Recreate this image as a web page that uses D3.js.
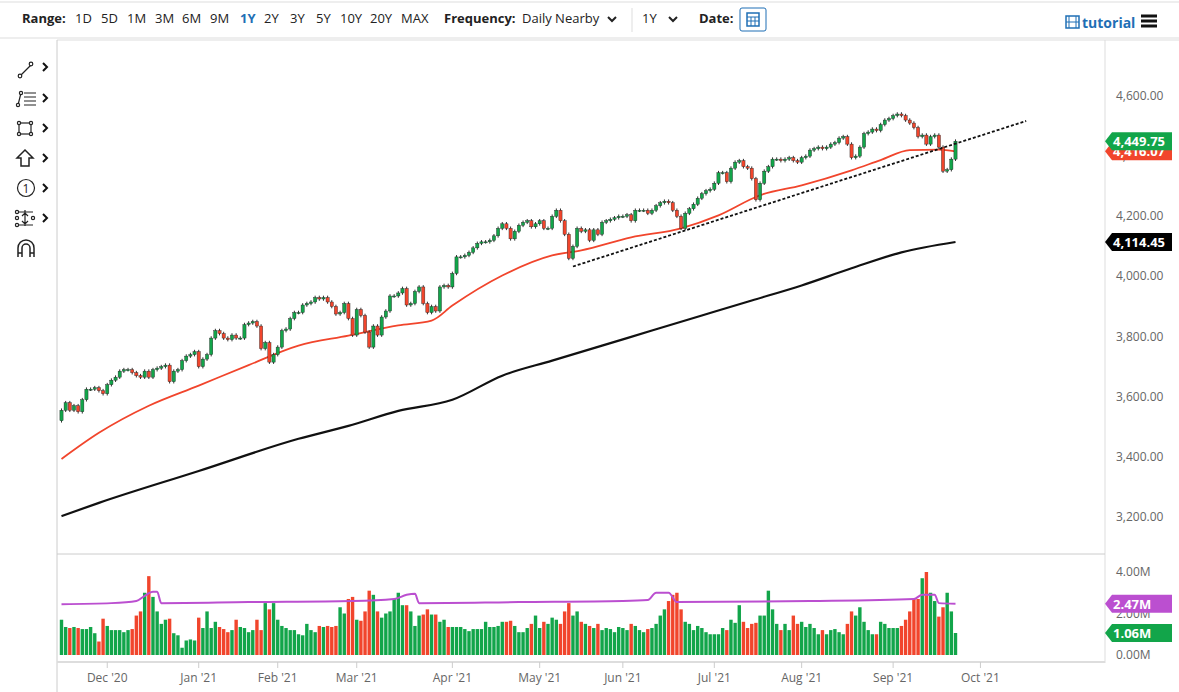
<!DOCTYPE html>
<html><head><meta charset="utf-8">
<script src="https://cdn.jsdelivr.net/npm/d3@7"></script>
<style>body{margin:0;background:#fff;font-family:"Open Sans",sans-serif}</style>
</head><body><svg id="c" width="1179" height="692"></svg>
<script>
// ---------- DATA ----------
const holidays=["2020-11-26","2020-12-25","2021-01-01","2021-01-18","2021-02-15","2021-04-02","2021-05-31","2021-07-05","2021-09-06"];
const closes=[
3555,3580,3555,3570,3550,3590,3625,3625,3630,3620,3610,
3640,3655,3665,3685,3690,3690,3680,3670,3665,3685,3665,3690,3695,3700,3705,3650,3685,3690,3720,3735,3740,3750,
3700,3725,3740,3795,3820,3810,3795,3790,3805,3795,3795,3840,3845,3850,3835,3760,3780,3715,3740,
3765,3820,3825,3860,3880,3880,3905,3910,3915,3930,3925,3930,3915,3900,3875,3880,3910,3860,3805,
3890,3870,3815,3765,3835,3805,3865,3885,3935,3935,3945,3960,3905,3910,3950,3965,3910,3880,3900,3885,3965,3970,3965,
4010,4065,4065,4070,4080,4095,4110,4115,4115,4120,4135,4160,4175,4160,4125,4150,4170,4180,4185,4165,4175,
4185,4160,4160,4200,4220,4185,4140,4060,4100,4160,4150,4155,4120,4155,4140,4180,4185,4190,4195,4200,
4200,4205,4185,4220,4220,4220,4210,4220,4235,4245,4250,4245,4220,4200,4160,4210,4225,4240,4260,4275,4285,4290,
4310,4345,4345,4315,4360,4380,4385,4365,4360,4325,4255,4310,4350,4365,4390,4390,4385,4390,4395,4385,4380,
4395,4400,4420,4425,4430,4425,4430,4440,4445,4460,4465,4440,4395,4400,4430,4475,4480,4490,4485,4505,4520,4525,
4535,4540,4535,4520,4510,4495,4465,4470,4440,4465,4470,4430,4350,4355,4390,4449.75];
const volumes=[
1.7,1.35,1.3,1.35,1.3,1.25,1.25,1.35,1.05,0.65,1.75,
1.4,1.2,1.2,1.2,1.1,1.2,1.25,1.9,2.1,3.0,3.8,2.8,2.1,1.5,1.7,1.75,1.05,0.95,0.35,0.7,0.75,0.7,
1.8,1.3,2.1,1.3,1.6,1.35,1.25,1.1,1.2,1.7,1.35,1.3,1.1,1.2,1.7,1.2,2.5,2.2,2.5,
1.7,1.4,1.3,1.2,1.2,1.0,0.95,1.5,1.2,1.1,1.4,1.35,1.4,1.35,1.4,2.3,2.0,2.7,2.8,
1.7,1.65,2.1,3.1,2.9,2.1,1.8,2.0,2.1,2.7,3.0,2.4,2.4,2.1,1.4,1.9,1.95,2.2,1.95,1.95,1.6,1.7,1.35,
1.35,1.35,1.35,1.25,1.15,1.25,1.25,1.25,1.6,1.35,1.35,1.4,1.6,1.6,1.65,1.4,1.1,1.1,1.3,1.5,1.9,
1.3,1.6,1.5,1.8,1.7,1.5,2.1,2.5,1.9,2.1,1.6,1.5,1.4,1.3,1.5,1.2,1.3,1.25,1.1,1.35,
1.3,1.2,1.5,1.4,1.2,1.1,1.25,1.3,1.5,1.9,2.2,2.6,2.9,3.0,2.2,1.6,1.5,1.2,1.4,1.3,1.1,1.0,
1.0,1.0,1.3,1.2,1.7,1.55,2.4,1.6,1.3,1.5,1.55,1.9,1.9,3.1,2.2,1.5,1.2,1.5,1.2,1.9,1.5,
1.6,1.35,1.5,1.3,1.0,1.2,1.0,1.2,1.25,1.1,1.0,1.5,2.1,1.9,2.3,1.6,1.2,1.0,1.0,1.6,1.5,1.3,
1.3,1.3,1.4,1.7,2.1,2.7,2.7,3.7,4.0,3.0,2.6,1.85,2.3,3.0,2.1,1.06];
const ma50=[[0,3393],[9,3480],[21,3570],[33,3637],[45,3705],[57,3770],[69,3803],[81,3837],[89,3853],[94,3903],[106,4003],[118,4070],[125,4087],[137,4130],[149,4160],[158,4203],[168,4270],[178,4303],[190,4353],[197,4387],[204,4420],[211,4422],[215,4416.07]];
const ma200=[[0,3203],[9,3247],[33,3353],[57,3460],[69,3503],[81,3553],[94,3590],[106,3670],[118,3720],[130,3770],[142,3820],[154,3870],[166,3920],[178,3970],[190,4027],[202,4080],[215,4114.45]];
const volAvg=[[0,2.45],[12,2.5],[18,2.6],[20,2.85],[22,3.05],[23,3.05],[24,2.5],[45,2.55],[70,2.6],[80,2.7],[83,2.9],[85,2.95],[86,2.5],[110,2.55],[135,2.6],[141,2.65],[143,3.0],[146,3.0],[148,2.55],[180,2.6],[205,2.7],[207,2.9],[210,2.9],[211,2.5],[215,2.47]];
const trend=[[123,4033],[232,4517]];
const priceTicks=[3200,3400,3600,3800,4000,4200,4400,4600];
const volTicks=[0,2,4];
const monthLabels=["Dec '20","Jan '21","Feb '21","Mar '21","Apr '21","May '21","Jun '21","Jul '21","Aug '21","Sep '21","Oct '21"];
const rangeItems=["1D","5D","1M","3M","6M","9M","1Y","2Y","3Y","5Y","10Y","20Y","MAX"];

// trading calendar
const fmt=d3.timeFormat("%Y-%m-%d");
const days=d3.timeDay.range(new Date(2020,10,13),new Date(2021,10,15)).filter(d=>d.getDay()>0&&d.getDay()<6&&!holidays.includes(fmt(d)));
const N=closes.length;

const svg=d3.select("#c");
const GREEN="#12a54a",RED="#f1452c",GRAY="#666";
const x=d3.scaleLinear().domain([0,215]).range([61.5,955.5]);
const y=d3.scaleLinear().domain([3200,4600]).range([517,96]);
const yv=d3.scaleLinear().domain([0,4]).range([655,572]);

// frames
svg.append("line").attr("x1",0).attr("x2",1179).attr("y1",2).attr("y2",2).attr("stroke","#ddd");
svg.append("line").attr("x1",0).attr("x2",1179).attr("y1",38).attr("y2",38).attr("stroke","#ddd");
svg.append("line").attr("x1",57).attr("x2",1179).attr("y1",40).attr("y2",40).attr("stroke","#ddd");
svg.append("line").attr("x1",57).attr("x2",57).attr("y1",40).attr("y2",692).attr("stroke","#ccc");
svg.append("line").attr("x1",1105).attr("x2",1105).attr("y1",40).attr("y2",663).attr("stroke","#ddd");
svg.append("line").attr("x1",57).attr("x2",1105).attr("y1",554).attr("y2",554).attr("stroke","#ccc");
svg.append("line").attr("x1",57).attr("x2",1105).attr("y1",662).attr("y2",662).attr("stroke","#ddd").attr("stroke-width",2);

// toolbar
const tb=svg.append("g").attr("font-size",13).attr("fill","#222");
tb.append("text").attr("x",22).attr("y",23).attr("font-weight","bold").text("Range:");
const rx=[75,101,127,155,182,210,240,264,290,316,340,370,401];
rangeItems.forEach((t,i)=>tb.append("text").attr("x",rx[i]).attr("y",23).attr("fill",t==="1Y"?"#1f6fb5":"#222").attr("font-weight",t==="1Y"?"bold":"normal").text(t));
tb.append("text").attr("x",444).attr("y",23).attr("font-weight","bold").text("Frequency:");
tb.append("text").attr("x",522).attr("y",23).text("Daily Nearby");
tb.append("text").attr("x",642).attr("y",23).text("1Y");
tb.append("text").attr("x",699).attr("y",23).attr("font-weight","bold").text("Date:");
[[608],[669]].forEach(([cx])=>svg.append("path").attr("d",`M${cx},17 l4,4 l4,-4`).attr("fill","none").attr("stroke","#222").attr("stroke-width",2));
svg.append("line").attr("x1",632).attr("x2",632).attr("y1",8).attr("y2",32).attr("stroke","#ddd");
svg.append("rect").attr("x",740).attr("y",8).attr("width",26).attr("height",23).attr("fill","#fff").attr("stroke","#1f6fb5").attr("rx",2);
svg.append("rect").attr("x",747).attr("y",13).attr("width",12).attr("height",13).attr("fill","none").attr("stroke","#1f6fb5").attr("stroke-width",1.5);
svg.append("path").attr("d","M747,17h12M751,17v9M755,17v9M747,21h12").attr("stroke","#1f6fb5");
svg.append("rect").attr("x",1066).attr("y",16).attr("width",13).attr("height",12).attr("fill","none").attr("stroke","#1f6fb5").attr("stroke-width",1.5);
svg.append("path").attr("d","M1069,16v12M1076,16v12M1066,22h13").attr("stroke","#1f6fb5");
svg.append("text").attr("x",1082).attr("y",28).attr("font-size",14).attr("font-weight","bold").attr("fill","#1f6fb5").text("tutorial");
[16,21,26].forEach(yy=>svg.append("rect").attr("x",1141).attr("y",yy-1.5).attr("width",16).attr("height",3).attr("fill","#111"));

// left tool icons
const ic=svg.append("g").attr("fill","none").attr("stroke","#222").attr("stroke-width",1.2);
ic.append("path").attr("d","M20,76 L31,65");ic.append("circle").attr("cx",20).attr("cy",76).attr("r",1.8).attr("fill","#fff");ic.append("circle").attr("cx",31).attr("cy",64).attr("r",1.8).attr("fill","#fff");
ic.append("path").attr("d","M18,105 L21,93 M24,93h12M24,97h12M24,101h12M24,105h12");ic.append("circle").attr("cx",18).attr("cy",105).attr("r",1.6).attr("fill","#fff");ic.append("circle").attr("cx",21).attr("cy",93).attr("r",1.6).attr("fill","#fff");
ic.append("rect").attr("x",19).attr("y",123).attr("width",12).attr("height",11);
[[19,123],[31,123],[19,134],[31,134]].forEach(p=>ic.append("circle").attr("cx",p[0]).attr("cy",p[1]).attr("r",1.6).attr("fill","#fff"));
ic.append("path").attr("d","M25,150 L33,158 L29,158 L29,166 L21,166 L21,158 L17,158 Z").attr("stroke-width",1.5);
ic.append("circle").attr("cx",26).attr("cy",188).attr("r",8.5);
svg.append("text").attr("x",26).attr("y",193).attr("text-anchor","middle").attr("font-size",12).attr("fill","#222").text("1");
ic.append("path").attr("d","M17,212h16M17,225h16M25,210v16M22,216l3,-3 3,3M22,221l3,3 3,-3");
[[17,212],[17,218],[17,225],[33,218]].forEach(p=>ic.append("circle").attr("cx",p[0]).attr("cy",p[1]).attr("r",1.6).attr("fill","#fff"));
ic.append("path").attr("d","M18,257 L18,248 A8,8 0 0 1 34,248 L34,257 M22,257 L22,248 A4,4 0 0 1 30,248 L30,257 M18,253h4M30,253h4").attr("stroke-width",1.5);
[67,98,128,158,188,218].forEach(yy=>svg.append("path").attr("d",`M43,${yy-4} l4,4 l-4,4`).attr("fill","none").attr("stroke","#111").attr("stroke-width",2));

// y-axis labels
const ya=svg.append("g").attr("font-size",12).attr("fill",GRAY);
priceTicks.forEach(v=>ya.append("text").attr("x",1116).attr("y",y(v)+4).text(d3.format(",.2f")(v)));
volTicks.forEach(v=>ya.append("text").attr("x",1116).attr("y",yv(v)+4).text(v.toFixed(2)+"M"));

// x-axis month ticks
const firsts=[];
days.forEach((d,i)=>{ if(i>0 && d.getMonth()!==days[i-1].getMonth()) firsts.push(i); });
firsts.slice(0,monthLabels.length).forEach((i,k)=>{
  svg.append("line").attr("x1",x(i)).attr("x2",x(i)).attr("y1",662).attr("y2",668).attr("stroke","#ccc");
  svg.append("text").attr("x",x(i)).attr("y",682).attr("text-anchor","middle").attr("font-size",12).attr("fill",GRAY).text(monthLabels[k]);
});

// moving averages
const ln=d3.line().x(d=>x(d[0])).y(d=>y(d[1])).curve(d3.curveMonotoneX);
svg.append("path").attr("d",ln(ma200)).attr("fill","none").attr("stroke","#111").attr("stroke-width",2.2);
svg.append("path").attr("d",ln(ma50)).attr("fill","none").attr("stroke",RED).attr("stroke-width",1.8);

// candles
const opens=closes.map((c,i)=>i?closes[i-1]:3520);
const cg=svg.append("g");
closes.forEach((c,i)=>{
  const o=opens[i],up=c>=o,col=up?GREEN:RED;
  const hi=Math.max(o,c)+6,lo=Math.min(o,c)-6;
  cg.append("line").attr("x1",x(i)).attr("x2",x(i)).attr("y1",y(hi)).attr("y2",y(lo)).attr("stroke","#333").attr("stroke-width",1);
  cg.append("rect").attr("x",x(i)-1.6).attr("width",3.2).attr("y",y(Math.max(o,c))).attr("height",Math.max(1,y(Math.min(o,c))-y(Math.max(o,c)))).attr("fill",col).attr("stroke","#222").attr("stroke-width",0.4);
});
// trendline
svg.append("line").attr("x1",x(trend[0][0])).attr("y1",y(trend[0][1])).attr("x2",x(trend[1][0])).attr("y2",y(trend[1][1])).attr("stroke","#111").attr("stroke-width",1.8).attr("stroke-dasharray","3,2");

// volume
volumes.forEach((v,i)=>{
  const col=closes[i]>=opens[i]?GREEN:RED;
  svg.append("rect").attr("x",x(i)-1.7).attr("width",3.4).attr("y",yv(v)).attr("height",yv(0)-yv(v)).attr("fill",col);
});
svg.append("path").attr("d",d3.line().x(d=>x(d[0])).y(d=>yv(d[1])).curve(d3.curveMonotoneX)(volAvg)).attr("fill","none").attr("stroke","#bb4fd0").attr("stroke-width",2);

// tags
function tag(yy,txt,col,fg){
  svg.append("path").attr("d",`M1105,${yy} l7,-9 h60 v18 h-60 z`).attr("fill",col);
  svg.append("text").attr("x",1113).attr("y",yy+5).attr("font-size",13).attr("font-weight","bold").attr("fill",fg).text(txt);
}
tag(y(ma50[ma50.length-1][1]),"4,416.07",RED,"#fff");
tag(y(closes[N-1]),d3.format(",.2f")(closes[N-1]),GREEN,"#fff");
tag(y(ma200[ma200.length-1][1]),"4,114.45","#000","#fff");
tag(yv(2.47),"2.47M","#bb4fd0","#fff");
tag(yv(volumes[N-1]),"1.06M",GREEN,"#fff");
</script></body></html>
